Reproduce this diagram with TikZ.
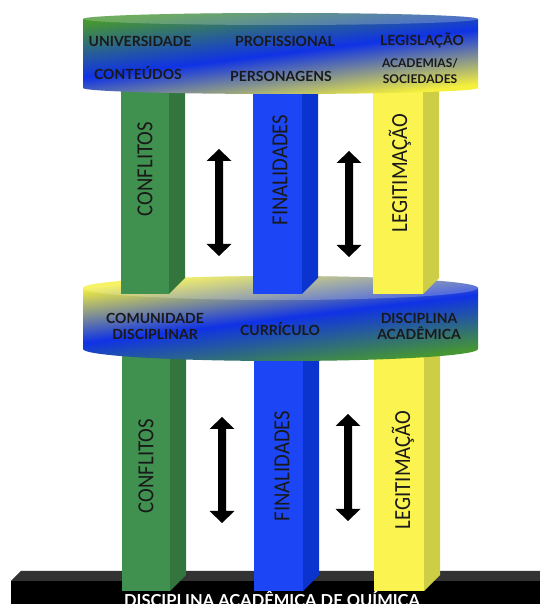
\documentclass[tikz,border=0pt]{standalone}
\usepackage{fontspec}
\setmainfont{Lato}
\newfontfamily\pillarFont{Carlito}
\usetikzlibrary{positioning}

\definecolor{pillarGreen}{RGB}{64,145,80}
\definecolor{pillarGreenSide}{RGB}{50,118,62}
\definecolor{pillarBlue}{RGB}{28,70,245}
\definecolor{pillarBlueSide}{RGB}{10,52,205}
\definecolor{pillarYellow}{RGB}{250,243,80}
\definecolor{pillarYellowSide}{RGB}{205,205,70}
\definecolor{diskGreen}{RGB}{70,150,50}
\definecolor{diskBlue}{RGB}{15,50,230}
\definecolor{diskYellow}{RGB}{245,240,60}

% the shadings of the two disks (bottom to top)
\pgfdeclareverticalshading{topDiskShade}{100bp}{color(0bp)=(diskYellow); color(33bp)=(diskYellow);
  color(50bp)=(diskBlue); color(67bp)=(diskGreen); color(100bp)=(diskGreen)}
\pgfdeclareverticalshading{midDiskShade}{100bp}{color(0bp)=(diskGreen); color(33bp)=(diskGreen);
  color(50bp)=(diskBlue); color(67bp)=(diskYellow); color(100bp)=(diskYellow)}

\newcommand\diskCenterX{280.5}
\newcommand\diskRadiusX{197.5}
\newcommand\pillarSide{16}
\newcommand\pillarText[1]{\scalebox{0.9}[1]{#1}}

% front face and side face of one pillar
\newcommand\drawPillar[6]{%
  \fill[#6] (#2,#3) -- (#2+\pillarSide,#3) -- (#2+\pillarSide,#4+\pillarSide) -- (#2,#4) -- cycle;
  \fill[#5] (#1,#3) rectangle (#2,#4);
}
% one disk: top y, bottom y, y radius, middle y, shading
\newcommand\drawDisk[5]{%
  \begin{scope}
    \clip (\diskCenterX-\diskRadiusX,#1) -- (\diskCenterX-\diskRadiusX,#2)
      arc[start angle=180, end angle=360, x radius=\diskRadiusX, y radius=#3]
      -- (\diskCenterX+\diskRadiusX,#1)
      arc[start angle=0, end angle=180, x radius=\diskRadiusX, y radius=#3] -- cycle;
    \shade[shading=#5, transform canvas={shift={(\diskCenterX,#4)}, rotate=7}] (-260,-80) rectangle (260,80);
  \end{scope}
  \fill[white, opacity=0.22] (\diskCenterX,#1) ellipse [x radius=\diskRadiusX, y radius=#3];
}
% black double arrow: x, top y, bottom y
\newcommand\dblArrow[3]{%
  \fill[black] (#1,#2) -- (#1+12.5,#2-12) -- (#1+4,#2-12) -- (#1+4,#3+12) -- (#1+12.5,#3+12)
    -- (#1,#3) -- (#1-12.5,#3+12) -- (#1-4,#3+12) -- (#1-4,#2-12) -- (#1-12.5,#2-12) -- cycle;
}

\tikzset{
  diskText/.style={font=\bfseries\fontsize{14}{16}\selectfont, text=black!90, align=center, inner sep=0pt},
  diskSmall/.style={diskText, font=\bfseries\fontsize{12}{16}\selectfont},
  pillarLabel/.style={font=\pillarFont\fontsize{23}{23}\selectfont, text=black!90, rotate=90, inner sep=0pt},
  baseText/.style={font=\bfseries\fontsize{16.5}{16.5}\selectfont, text=white, anchor=base}
}

\begin{document}
\begin{tikzpicture}[x=1pt, y=1pt]
    \useasboundingbox (0,0) rectangle (539,604);

    % base slab
    \fill[black] (11,23) rectangle (545,-12);
    \fill[black!80] (11,23) -- (21,33) -- (545,33) -- (545,23) -- cycle;
    \node[baseText] (Base_Text) at (272,-2.5) {DISCIPLINA ACADÊMICA DE QUÍMICA};

    % lower pillars
    \drawPillar{122}{170}{262}{13}{pillarGreen}{pillarGreenSide}
    \drawPillar{254}{303}{262}{13}{pillarBlue}{pillarBlueSide}
    \drawPillar{374}{424}{262}{13}{pillarYellow}{pillarYellowSide}

    % middle disk
    \drawDisk{316}{255}{12}{285.5}{midDiskShade}

    % upper pillars
    \drawPillar{121}{169}{522}{310}{pillarGreen}{pillarGreenSide}
    \drawPillar{253}{302}{522}{310}{pillarBlue}{pillarBlueSide}
    \drawPillar{373}{423}{522}{310}{pillarYellow}{pillarYellowSide}

    % top disk
    \drawDisk{585}{516}{6}{550.5}{topDiskShade}

    % labels on the disks
    \node[diskText] (Top_Universidade) at (140,563) {UNIVERSIDADE};
    \node[diskText] (Top_Profissional) at (285,563) {PROFISSIONAL};
    \node[diskText] (Top_Legislacao) at (422,564) {LEGISLAÇÃO};
    \node[diskText] (Top_Conteudos) at (138,531) {CONTEÚDOS};
    \node[diskText] (Top_Personagens) at (281,528) {PERSONAGENS};
    \node[diskSmall] (Top_Academias) at (420,533) {ACADEMIAS/\\SOCIEDADES};

    \node[diskText] (Mid_Comunidade) at (155,278) {COMUNIDADE\\DISCIPLINAR};
    \node[diskText] (Mid_Curriculo) at (280,275) {CURRÍCULO};
    \node[diskText] (Mid_Disciplina) at (419,278) {DISCIPLINA\\ACADÊMICA};

    % labels on the pillars
    \node[pillarLabel] (Top_Conflitos) at (145,435) {\pillarText{CONFLITOS}};
    \node[pillarLabel] (Top_Finalidades) at (280,434) {\pillarText{FINALIDADES}};
    \node[pillarLabel] (Top_Legitimacao) at (400,431) {\pillarText{LEGITIMAÇÃO}};
    \node[pillarLabel] (Low_Conflitos) at (146,138) {\pillarText{CONFLITOS}};
    \node[pillarLabel] (Low_Finalidades) at (282,138) {\pillarText{FINALIDADES}};
    \node[pillarLabel] (Low_Legitimacao) at (403,134) {\pillarText{LEGITIMAÇÃO}};

    % arrows between the pillars
    \dblArrow{219}{455}{348}
    \dblArrow{349}{453}{347}
    \dblArrow{222}{187}{81}
    \dblArrow{348}{190}{83}

\end{tikzpicture}
\end{document}
